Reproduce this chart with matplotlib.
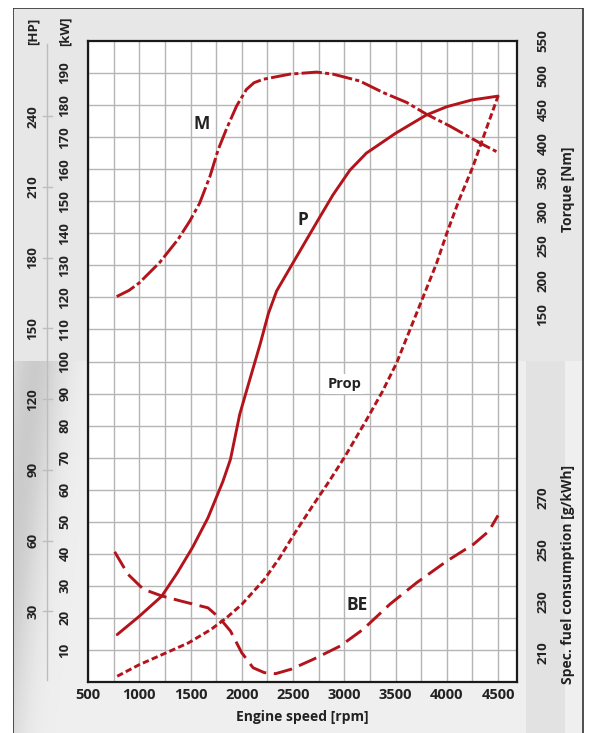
import numpy as np
import matplotlib
matplotlib.use("Agg")
import matplotlib.pyplot as plt
from matplotlib.patches import Rectangle
from matplotlib.transforms import blended_transform_factory

plt.rcParams['font.family'] = ['Open Sans', 'DejaVu Sans']
plt.rcParams['font.weight'] = 'bold'

# Leistung P [kW]
rpm_p = [785, 1000, 1220, 1370, 1520, 1670, 1815, 1890, 1980, 2075, 2180, 2260,
         2340, 2440, 2535, 2630, 2760, 2890, 3055, 3215, 3500, 3800, 4000, 4245, 4500]
kw_p = [14.8, 20.5, 26.8, 34, 42, 51.2, 62.5, 69.5, 83.5, 94, 105.5, 115,
        122, 127.5, 132.7, 137.9, 145, 152, 159.7, 165, 171.2, 176.9, 179.5, 181.6, 182.8]

# Drehmoment M [Nm]
rpm_m = [780, 900, 1000, 1200, 1380, 1495, 1590, 1690, 1770, 1850, 1950, 2045, 2120,
         2210, 2470, 2730, 2890, 3150, 3380, 3610, 3800, 4030, 4320, 4500]
nm_m = [176, 185, 196, 226, 260, 287, 313, 352, 391, 421, 455, 479, 489,
        494, 501.5, 504.5, 501.5, 491.5, 474.5, 460, 443, 425.5, 401, 387]

# Propellerkurve [kW]
rpm_prop = [785, 1000, 1220, 1480, 1700, 1850, 2000, 2220, 2370, 2520, 2700, 2850,
            3000, 3215, 3370, 3510, 3770, 3900, 4000, 4120, 4255, 4370, 4500]
kw_prop = [1.8, 5.4, 8.5, 12.2, 16.4, 20, 24.2, 32, 38.8, 46.6, 55.4, 62.5,
           70, 81.7, 90.5, 99.5, 120.2, 130.6, 140, 150.4, 160.8, 171.2, 182.8]

# spez. Verbrauch BE [g/kWh]
rpm_be = [760, 890, 1040, 1220, 1410, 1670, 1780, 1890, 2000, 2110, 2220, 2330,
          2480, 2700, 2960, 3185, 3445, 3705, 4000, 4260, 4410, 4500]
g_be = [249.2, 240.5, 234.7, 232.1, 230.1, 227.5, 223.7, 218.5, 210.1, 204.3, 202.4, 202,
        203.7, 207.6, 212.7, 219.2, 228.9, 237.2, 245.6, 252.1, 257.2, 263.3]

x_ticks = [500, 1000, 1500, 2000, 2500, 3000, 3500, 4000, 4500]
kw_ticks = list(range(10, 200, 10))
hp_ticks = [30, 60, 90, 120, 150, 180, 210, 240]
nm_ticks = [150, 200, 250, 300, 350, 400, 450, 500, 550]
be_ticks = [210, 230, 250, 270]

rot = '#b3141c'
txt = '#222222'
W, H = 591, 733

fig = plt.figure(figsize=(W / 100, H / 100), dpi=100)
fig.patch.set_facecolor('white')

# Hintergrund
bg = fig.add_axes([0, 0, 1, 1], zorder=-10)
bg.set_xlim(0, W)
bg.set_ylim(H, 0)
bg.axis('off')
yy, xx = np.mgrid[0:H, 0:W]
img = np.full((H, W), 0.905)
unten = yy > 360
img[unten] = 0.935
swoosh = np.exp(-((xx - 35 + (yy - 360) * 0.12) / 30.0) ** 2) * unten
img = img - 0.14 * swoosh
img[(yy > 360) & (xx > 525) & (xx < 565)] = 0.885
bg.imshow(img, cmap='gray', vmin=0, vmax=1, extent=(0, W, H, 0), aspect='auto')
bg.add_patch(Rectangle((13, 8), 570, 740, facecolor='none', edgecolor='#333333', lw=1.2))
bg.add_patch(Rectangle((0, 0), 13, H, facecolor='white', edgecolor='none'))
bg.add_patch(Rectangle((0, 0), W, 8, facecolor='white', edgecolor='none'))
bg.add_patch(Rectangle((583.5, 0), 10, H, facecolor='white', edgecolor='none'))

x0, x1, y0, y1 = 88, 517, 41, 682
ax = fig.add_axes([x0 / W, 1 - y1 / H, (x1 - x0) / W, (y1 - y0) / H])
ax.set_facecolor('white')
ax.set_xlim(500, 4685)
ax.set_ylim(0, 200)
ax.set_xticks(x_ticks)
ax.set_xticks(np.arange(750, 4700, 500), minor=True)
ax.set_yticks(kw_ticks)
ax.set_yticklabels([str(v) for v in kw_ticks], rotation=90, va='center')
ax.grid(True, which='both', color='#b5b5b5', lw=1.0)
ax.set_axisbelow(True)
ax.tick_params(axis='both', which='both', length=0, colors=txt)
ax.tick_params(axis='x', labelsize=10.5, pad=4)
ax.tick_params(axis='y', labelsize=9.5, pad=12)
for s in ax.spines.values():
    s.set_color('#1a1a1a')
    s.set_linewidth(1.6)
ax.set_xlabel('Engine speed [rpm]', fontsize=10, fontweight='bold', color=txt, labelpad=6)

ax.plot(rpm_p, kw_p, color=rot, lw=2.1, solid_capstyle='round', solid_joinstyle='round')
ax.plot(rpm_prop, kw_prop, color=rot, lw=2.1, dashes=(2.2, 1.1))

# Drehmoment-Achse
ax2 = ax.twinx()
ax2.set_ylim(550 - 641 / 0.6833, 550)
ax2.set_yticks(nm_ticks)
ax2.set_yticklabels([str(v) for v in nm_ticks], rotation=90, va='center')
ax2.tick_params(axis='y', length=0, labelsize=9.5, pad=14, colors=txt)
for s in ax2.spines.values():
    s.set_visible(False)
ax2.plot(rpm_m, nm_m, color=rot, lw=2.1, dashes=(7, 1.1, 1.4, 1.1))

# Verbrauchs-Achse
ax3 = ax.twinx()
ax3.set_ylim(210 - 29 / 2.583, 210 + 612.3 / 2.583)
ax3.set_yticks(be_ticks)
ax3.set_yticklabels([str(v) for v in be_ticks], rotation=90, va='center')
ax3.tick_params(axis='y', length=0, labelsize=9.5, pad=14, colors=txt)
for s in ax3.spines.values():
    s.set_visible(False)
ax3.plot(rpm_be, g_be, color=rot, lw=2.1, dashes=(6.5, 2.6))

# Kurvenbeschriftungen
ax.text(1610, 174, 'M', fontsize=12.5, fontweight='bold', color=txt, ha='center', va='center')
ax.text(2600, 144, 'P', fontsize=12.5, fontweight='bold', color=txt, ha='center', va='center')
ax.text(3000, 93, 'Prop', fontsize=10.5, fontweight='bold', color=txt, ha='center', va='center',
        bbox=dict(facecolor='white', edgecolor='none', pad=2))
ax.text(3130, 24, 'BE', fontsize=12.5, fontweight='bold', color=txt, ha='center', va='center')

# PS-Skala links
tr = blended_transform_factory(fig.transFigure, ax.transData)
ax.plot([47 / W, 47 / W], [0.5, 199], transform=tr, color='#bdbdbd', lw=1, clip_on=False)
for hp in hp_ticks:
    kw = hp * 0.7355
    ax.plot([43 / W, 52 / W], [kw, kw], transform=tr, color='#bdbdbd', lw=1, clip_on=False)
    ax.text(33 / W, kw, str(hp), transform=tr, rotation=90, ha='center', va='center',
            fontsize=9.5, fontweight='bold', color=txt)

fig.text(33 / W, 1 - 31 / H, '[HP]', rotation=90, ha='center', va='center',
         fontsize=9.5, fontweight='bold', color=txt)
fig.text(65 / W, 1 - 31 / H, '[kW]', rotation=90, ha='center', va='center',
         fontsize=9.5, fontweight='bold', color=txt)
fig.text(568 / W, 1 - 189 / H, 'Torque [Nm]', rotation=90, ha='center', va='center',
         fontsize=10, fontweight='bold', color=txt)
fig.text(568 / W, 1 - 574 / H, 'Spec. fuel consumption [g/kWh]', rotation=90, ha='center',
         va='center', fontsize=10, fontweight='bold', color=txt)

fig.savefig('out.png', dpi=100)
